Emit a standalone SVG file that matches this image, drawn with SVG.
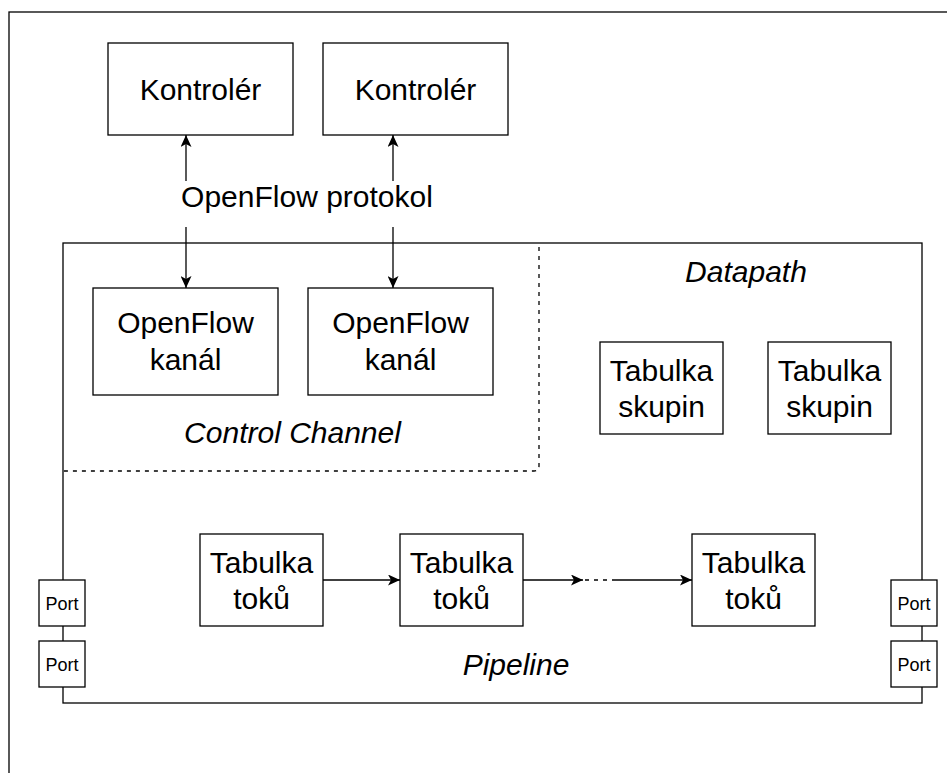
<svg xmlns="http://www.w3.org/2000/svg" width="947" height="773" viewBox="0 0 947 773">
<style>
.box{fill:#fff;stroke:#000;stroke-width:1.3}
.ln{fill:none;stroke:#000;stroke-width:1.3}
.dash{fill:none;stroke:#000;stroke-width:1.3;stroke-dasharray:4 5}
.t{font-family:"Liberation Sans",Arial,Helvetica,sans-serif;font-size:30px;text-anchor:middle;fill:#000}
.i{font-style:italic}
.p{font-size:18px}
</style>
<defs>
<marker id="arr" markerUnits="userSpaceOnUse" viewBox="0 0 12 11" refX="12" refY="5.5" markerWidth="12" markerHeight="11" orient="auto">
<path d="M0,0 L12,5.5 L0,11 L3,5.5 Z" fill="#000"/>
</marker>
</defs>
<rect x="0" y="0" width="947" height="773" fill="#fff"/>
<rect id="frame" x="9" y="12" width="960" height="800" fill="#fff" stroke="#000" stroke-width="1.3"/>

<g id="datapath">
<rect x="63" y="243" width="859" height="460" class="box"/>
<text class="t i" x="746" y="282">Datapath</text>
</g>
<g id="control-channel">
<path class="dash" d="M539,247 V466 Q539,471 534,471 H63"/>
<text class="t i" x="292.5" y="443">Control Channel</text>
</g>
<g id="pipeline-label">
<text class="t i" x="516" y="675">Pipeline</text>
</g>

<g id="kontroler1">
<rect class="box" x="108" y="43" width="185" height="92"/>
<text class="t" x="200.5" y="99.5">Kontrolér</text>
</g>
<g id="kontroler2">
<rect class="box" x="323" y="43" width="185" height="92"/>
<text class="t" x="415.5" y="99.5">Kontrolér</text>
</g>
<g id="ofkanal1">
<rect class="box" x="93" y="288" width="185" height="107"/>
<text class="t" x="185.5" y="333">OpenFlow</text>
<text class="t" x="185.5" y="369.5">kanál</text>
</g>
<g id="ofkanal2">
<rect class="box" x="308" y="288" width="185" height="107"/>
<text class="t" x="400.5" y="333">OpenFlow</text>
<text class="t" x="400.5" y="369.5">kanál</text>
</g>
<g id="skupin1">
<rect class="box" x="600" y="342" width="123" height="92"/>
<text class="t" x="661.5" y="380.5">Tabulka</text>
<text class="t" x="661.5" y="416.5">skupin</text>
</g>
<g id="skupin2">
<rect class="box" x="768" y="342" width="123" height="92"/>
<text class="t" x="829.5" y="380.5">Tabulka</text>
<text class="t" x="829.5" y="416.5">skupin</text>
</g>
<g id="toku1">
<rect class="box" x="200" y="534" width="123" height="92"/>
<text class="t" x="261.5" y="572.5">Tabulka</text>
<text class="t" x="261.5" y="608.5">toků</text>
</g>
<g id="toku2">
<rect class="box" x="400" y="534" width="123" height="92"/>
<text class="t" x="461.5" y="572.5">Tabulka</text>
<text class="t" x="461.5" y="608.5">toků</text>
</g>
<g id="toku3">
<rect class="box" x="692" y="534" width="123" height="92"/>
<text class="t" x="753.5" y="572.5">Tabulka</text>
<text class="t" x="753.5" y="608.5">toků</text>
</g>
<g id="port-l1">
<rect class="box" x="39" y="580" width="46" height="46"/>
<text class="t p" x="62" y="610">Port</text>
</g>
<g id="port-l2">
<rect class="box" x="39" y="641" width="46" height="46"/>
<text class="t p" x="62" y="671">Port</text>
</g>
<g id="port-r1">
<rect class="box" x="891" y="580" width="46" height="46"/>
<text class="t p" x="914" y="610">Port</text>
</g>
<g id="port-r2">
<rect class="box" x="891" y="641" width="46" height="46"/>
<text class="t p" x="914" y="671">Port</text>
</g>

<g id="connectors">
<line class="ln" x1="186" y1="181" x2="186" y2="135" marker-end="url(#arr)"/>
<line class="ln" x1="393" y1="181" x2="393" y2="135" marker-end="url(#arr)"/>
<line class="ln" x1="186" y1="227" x2="186" y2="288" marker-end="url(#arr)"/>
<line class="ln" x1="393" y1="227" x2="393" y2="288" marker-end="url(#arr)"/>
<text class="t" x="307" y="207">OpenFlow protokol</text>
<line class="ln" x1="323" y1="580" x2="400" y2="580" marker-end="url(#arr)"/>
<line class="ln" x1="523" y1="580" x2="583" y2="580" marker-end="url(#arr)"/>
<line class="dash" x1="585" y1="580" x2="614" y2="580"/>
<line class="ln" x1="614" y1="580" x2="692" y2="580" marker-end="url(#arr)"/>
</g>
</svg>
